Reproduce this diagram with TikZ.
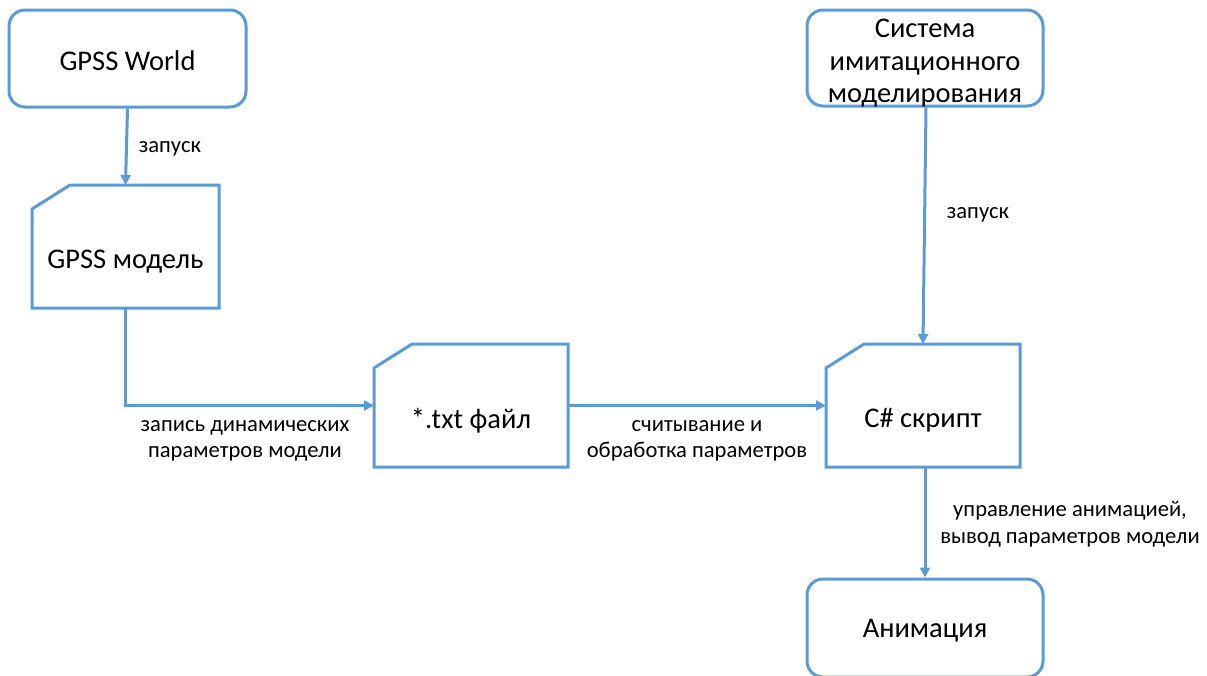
\documentclass[tikz,border=0pt]{standalone}
\usepackage{fontspec}
\setmainfont{Carlito}
\usetikzlibrary{arrows.meta,calc}
\definecolor{lineblue}{RGB}{91,155,213}
\tikzset{
  x=1pt, y=-1pt,
  rbox/.style={draw=lineblue, line width=3pt, rounded corners=16pt, fill=white,
    minimum width=236pt, inner sep=0pt},
  cbox/.style={draw=none, outer sep=0pt, inner sep=0pt},
  ctext/.style={align=center, font=\fontsize{28.5}{32.5}\selectfont, text=black, inner sep=0pt},
  outline/.style={draw=lineblue, line width=3pt, line join=miter},
  conn/.style={draw=lineblue, line width=3pt, -{Triangle[length=10pt,width=10pt]}},
  lbl/.style={align=center, font=\fontsize{22.6}{26.5}\selectfont, text=black, inner sep=0pt}
}
\begin{document}
\begin{tikzpicture}
\useasboundingbox (0,0) rectangle (1207,675);
% rounded boxes
\node[rbox, minimum width=237pt, minimum height=97pt] (gw) at (127.5,58.5) {};
\node[ctext] (gwt) at (127.5,61) {GPSS World};
\node[rbox, minimum height=96pt] (sim) at (925,58) {};
\node[ctext] (simt) at (925,63.5) {Система\\имитационного\\моделирования};
\node[rbox, minimum height=98pt] (an) at (925,628) {};
\node[ctext] (ant) at (925,631) {Анимация};
% cut-corner boxes
\node[cbox, minimum width=187pt, minimum height=123pt] (gm) at (125.5,246.5) {};
\node[cbox, minimum width=194pt, minimum height=123pt] (txt) at (471,405.5) {};
\node[cbox, minimum width=194pt, minimum height=123pt] (cs) at (923,405.5) {};
\foreach \n in {gm,txt,cs}{
  \draw[outline] ([yshift=-24pt]\n.north west) -- ([xshift=38pt]\n.north west) -- (\n.north east) -- (\n.south east) -- (\n.south west) -- cycle;
}
\node[ctext] (gmt) at ([yshift=-15pt]gm.center) {GPSS модель};
\node[ctext] (txtt) at ([yshift=-15pt]txt.center) {*.txt файл};
\node[ctext] (cst) at ([yshift=-15pt]cs.center) {C\# скрипт};
% connectors
\draw[conn] (gw.south) -- (gm.north);
\node[lbl] (l1) at (170,149) {запуск};
\draw[conn] (gm.south) |- (txt.west);
\node[lbl] (l2) at (245,441) {запись динамических\\параметров модели};
\draw[conn] (txt.east) -- (cs.west);
\node[lbl] (l3) at (697,441) {считывание и\\обработка параметров};
\draw[conn] ([xshift=1pt]sim.south) -- (cs.north);
\node[lbl] (l4) at (978,215) {запуск};
\draw[conn] ([xshift=2pt]cs.south) -- ([xshift=2pt]cs.south |- an.north);
\node[lbl] (l5) at (1070,524) {управление анимацией,\\вывод параметров модели};
\end{tikzpicture}
\end{document}
